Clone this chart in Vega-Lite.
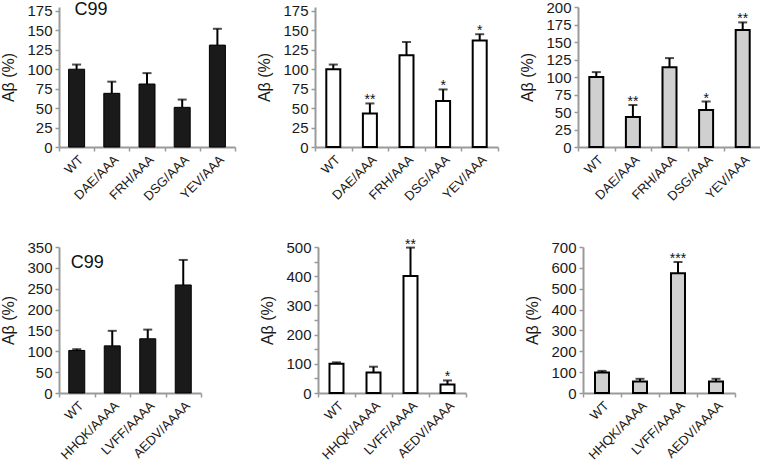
{
  "$schema": "https://vega.github.io/schema/vega-lite/v6.json",
  "padding": {"left": 0, "top": 0, "right": 0, "bottom": 0},
  "background": "white",
  "datasets": {
    "bars": [
      {"panel": "p1", "cat": "WT", "value": 100, "err": 106, "sig": "", "note": "C99"},
      {"panel": "p1", "cat": "DAE/AAA", "value": 69, "err": 84, "sig": ""},
      {"panel": "p1", "cat": "FRH/AAA", "value": 81, "err": 95, "sig": ""},
      {"panel": "p1", "cat": "DSG/AAA", "value": 51, "err": 61, "sig": ""},
      {"panel": "p1", "cat": "YEV/AAA", "value": 131, "err": 152, "sig": ""},
      {"panel": "p2", "cat": "WT", "value": 100, "err": 106, "sig": ""},
      {"panel": "p2", "cat": "DAE/AAA", "value": 43, "err": 56, "sig": "**"},
      {"panel": "p2", "cat": "FRH/AAA", "value": 118, "err": 135, "sig": ""},
      {"panel": "p2", "cat": "DSG/AAA", "value": 59, "err": 74, "sig": "*"},
      {"panel": "p2", "cat": "YEV/AAA", "value": 137, "err": 145, "sig": "*"},
      {"panel": "p3", "cat": "WT", "value": 100, "err": 107, "sig": ""},
      {"panel": "p3", "cat": "DAE/AAA", "value": 43, "err": 60, "sig": "**"},
      {"panel": "p3", "cat": "FRH/AAA", "value": 114, "err": 127, "sig": ""},
      {"panel": "p3", "cat": "DSG/AAA", "value": 53, "err": 65, "sig": "*"},
      {"panel": "p3", "cat": "YEV/AAA", "value": 167, "err": 178, "sig": "**"},
      {"panel": "p4", "cat": "WT", "value": 102, "err": 105, "sig": "", "note": "C99"},
      {"panel": "p4", "cat": "HHQK/AAAA", "value": 113, "err": 149, "sig": ""},
      {"panel": "p4", "cat": "LVFF/AAAA", "value": 130, "err": 152, "sig": ""},
      {"panel": "p4", "cat": "AEDV/AAAA", "value": 259, "err": 319, "sig": ""},
      {"panel": "p5", "cat": "WT", "value": 100, "err": 105, "sig": ""},
      {"panel": "p5", "cat": "HHQK/AAAA", "value": 70, "err": 90, "sig": ""},
      {"panel": "p5", "cat": "LVFF/AAAA", "value": 401, "err": 498, "sig": "**"},
      {"panel": "p5", "cat": "AEDV/AAAA", "value": 29, "err": 43, "sig": "*"},
      {"panel": "p6", "cat": "WT", "value": 98, "err": 106, "sig": ""},
      {"panel": "p6", "cat": "HHQK/AAAA", "value": 55, "err": 68, "sig": ""},
      {"panel": "p6", "cat": "LVFF/AAAA", "value": 574, "err": 628, "sig": "***"},
      {"panel": "p6", "cat": "AEDV/AAAA", "value": 55, "err": 68, "sig": ""}
    ]
  },
  "data": {"name": "bars"},
  "spacing": 33,
  "vconcat": [
    {
      "spacing": 20,
      "hconcat": [
        {
          "width": 176, "height": 140,
          "transform": [{"filter": "datum.panel == 'p1'"}],
          "encoding": {"x": {"field": "cat", "type": "nominal", "sort": null, "title": null, "scale": {"paddingInner": 0, "paddingOuter": 0}, "axis": {"labelFontSize": 13, "labelPadding": 2, "labelAngle": -45, "tickBand": "extent"}}},
          "layer": [
            {"mark": {"type": "bar", "width": 16, "fill": "#1a1a1a", "stroke": "#000", "strokeWidth": 1},
             "encoding": {"y": {"field": "value", "type": "quantitative", "title": "Aβ (%)", "scale": {"domain": [0, 175]}, "axis": {"values": [0, 25, 50, 75, 100, 125, 150, 175], "tickCount": 8, "labelOverlap": false, "labelSeparation": 0, "labelFontSize": 15}}}},
            {"mark": {"type": "rule", "strokeWidth": 2, "color": "#000"},
             "encoding": {"y": {"field": "value", "type": "quantitative"}, "y2": {"field": "err"}}},
            {"mark": {"type": "tick", "size": 9, "thickness": 2, "color": "#000"},
             "encoding": {"y": {"field": "err", "type": "quantitative"}}},
            {"transform": [{"filter": "datum.note"}],
             "mark": {"type": "text", "align": "left", "baseline": "middle", "fontSize": 18, "dx": -2, "dy": -1, "color": "#111"},
             "encoding": {"y": {"datum": 175, "type": "quantitative"}, "text": {"field": "note"}}}
          ]
        },
        {
          "width": 183, "height": 140,
          "transform": [{"filter": "datum.panel == 'p2'"}],
          "encoding": {"x": {"field": "cat", "type": "nominal", "sort": null, "title": null, "scale": {"paddingInner": 0, "paddingOuter": 0}, "axis": {"labelFontSize": 13, "labelPadding": 2, "labelAngle": -45, "tickBand": "extent"}}},
          "layer": [
            {"mark": {"type": "bar", "width": 14, "fill": "#ffffff", "stroke": "#000", "strokeWidth": 2},
             "encoding": {"y": {"field": "value", "type": "quantitative", "title": "Aβ (%)", "scale": {"domain": [0, 175]}, "axis": {"values": [0, 25, 50, 75, 100, 125, 150, 175], "tickCount": 8, "labelOverlap": false, "labelSeparation": 0, "labelFontSize": 15}}}},
            {"mark": {"type": "rule", "strokeWidth": 2, "color": "#000"},
             "encoding": {"y": {"field": "value", "type": "quantitative"}, "y2": {"field": "err"}}},
            {"mark": {"type": "tick", "size": 9, "thickness": 2, "color": "#000"},
             "encoding": {"y": {"field": "err", "type": "quantitative"}}},
            {"mark": {"type": "text", "baseline": "alphabetic", "fontSize": 14, "dy": 1, "color": "#111"},
             "encoding": {"y": {"field": "err", "type": "quantitative"}, "text": {"field": "sig"}}}
          ]
        },
        {
          "width": 183, "height": 140,
          "transform": [{"filter": "datum.panel == 'p3'"}],
          "encoding": {"x": {"field": "cat", "type": "nominal", "sort": null, "title": null, "scale": {"paddingInner": 0, "paddingOuter": 0}, "axis": {"labelFontSize": 13, "labelPadding": 2, "labelAngle": -45, "tickBand": "extent"}}},
          "layer": [
            {"mark": {"type": "bar", "width": 14, "fill": "#d0d0d0", "stroke": "#000", "strokeWidth": 2},
             "encoding": {"y": {"field": "value", "type": "quantitative", "title": "Aβ (%)", "scale": {"domain": [0, 200]}, "axis": {"values": [0, 25, 50, 75, 100, 125, 150, 175, 200], "tickCount": 9, "labelOverlap": false, "labelSeparation": 0, "labelFontSize": 15}}}},
            {"mark": {"type": "rule", "strokeWidth": 2, "color": "#000"},
             "encoding": {"y": {"field": "value", "type": "quantitative"}, "y2": {"field": "err"}}},
            {"mark": {"type": "tick", "size": 9, "thickness": 2, "color": "#000"},
             "encoding": {"y": {"field": "err", "type": "quantitative"}}},
            {"mark": {"type": "text", "baseline": "alphabetic", "fontSize": 14, "dy": 1, "color": "#111"},
             "encoding": {"y": {"field": "err", "type": "quantitative"}, "text": {"field": "sig"}}}
          ]
        }
      ]
    },
    {
      "spacing": 57,
      "hconcat": [
        {
          "width": 142, "height": 146,
          "transform": [{"filter": "datum.panel == 'p4'"}],
          "encoding": {"x": {"field": "cat", "type": "nominal", "sort": null, "title": null, "scale": {"paddingInner": 0, "paddingOuter": 0}, "axis": {"labelFontSize": 13, "labelPadding": 2, "labelAngle": -45, "tickBand": "extent"}}},
          "layer": [
            {"mark": {"type": "bar", "width": 16, "fill": "#1a1a1a", "stroke": "#000", "strokeWidth": 1},
             "encoding": {"y": {"field": "value", "type": "quantitative", "title": "Aβ (%)", "scale": {"domain": [0, 350]}, "axis": {"values": [0, 50, 100, 150, 200, 250, 300, 350], "tickCount": 8, "labelOverlap": false, "labelSeparation": 0, "labelFontSize": 15}}}},
            {"mark": {"type": "rule", "strokeWidth": 2, "color": "#000"},
             "encoding": {"y": {"field": "value", "type": "quantitative"}, "y2": {"field": "err"}}},
            {"mark": {"type": "tick", "size": 9, "thickness": 2, "color": "#000"},
             "encoding": {"y": {"field": "err", "type": "quantitative"}}},
            {"transform": [{"filter": "datum.note"}],
             "mark": {"type": "text", "align": "left", "baseline": "middle", "fontSize": 18, "dx": -6, "dy": -1, "color": "#111"},
             "encoding": {"y": {"datum": 310, "type": "quantitative"}, "text": {"field": "note"}}}
          ]
        },
        {
          "width": 148, "height": 146,
          "transform": [{"filter": "datum.panel == 'p5'"}],
          "encoding": {"x": {"field": "cat", "type": "nominal", "sort": null, "title": null, "scale": {"paddingInner": 0, "paddingOuter": 0}, "axis": {"labelFontSize": 13, "labelPadding": 2, "labelAngle": -45, "tickBand": "extent"}}},
          "layer": [
            {"mark": {"type": "bar", "width": 14, "fill": "#ffffff", "stroke": "#000", "strokeWidth": 2},
             "encoding": {"y": {"field": "value", "type": "quantitative", "title": "Aβ (%)", "scale": {"domain": [0, 500]}, "axis": {"values": [0, 50, 100, 150, 200, 250, 300, 350, 400, 450, 500], "tickCount": 11, "labelExpr": "datum.value % 100 == 0 ? datum.label : ''", "labelOverlap": false, "labelSeparation": 0, "labelFontSize": 15}}}},
            {"mark": {"type": "rule", "strokeWidth": 2, "color": "#000"},
             "encoding": {"y": {"field": "value", "type": "quantitative"}, "y2": {"field": "err"}}},
            {"mark": {"type": "tick", "size": 9, "thickness": 2, "color": "#000"},
             "encoding": {"y": {"field": "err", "type": "quantitative"}}},
            {"mark": {"type": "text", "baseline": "alphabetic", "fontSize": 14, "dy": 1, "color": "#111"},
             "encoding": {"y": {"field": "err", "type": "quantitative"}, "text": {"field": "sig"}}}
          ]
        },
        {
          "width": 152, "height": 146,
          "transform": [{"filter": "datum.panel == 'p6'"}],
          "encoding": {"x": {"field": "cat", "type": "nominal", "sort": null, "title": null, "scale": {"paddingInner": 0, "paddingOuter": 0}, "axis": {"labelFontSize": 13, "labelPadding": 2, "labelAngle": -45, "tickBand": "extent"}}},
          "layer": [
            {"mark": {"type": "bar", "width": 14, "fill": "#d0d0d0", "stroke": "#000", "strokeWidth": 2},
             "encoding": {"y": {"field": "value", "type": "quantitative", "title": "Aβ (%)", "scale": {"domain": [0, 700]}, "axis": {"values": [0, 100, 200, 300, 400, 500, 600, 700], "tickCount": 8, "labelOverlap": false, "labelSeparation": 0, "labelFontSize": 15}}}},
            {"mark": {"type": "rule", "strokeWidth": 2, "color": "#000"},
             "encoding": {"y": {"field": "value", "type": "quantitative"}, "y2": {"field": "err"}}},
            {"mark": {"type": "tick", "size": 9, "thickness": 2, "color": "#000"},
             "encoding": {"y": {"field": "err", "type": "quantitative"}}},
            {"mark": {"type": "text", "baseline": "alphabetic", "fontSize": 14, "dy": 1, "color": "#111"},
             "encoding": {"y": {"field": "err", "type": "quantitative"}, "text": {"field": "sig"}}}
          ]
        }
      ]
    }
  ],
  "config": {
    "font": "Liberation Sans",
    "view": {"stroke": null},
    "axis": {
      "domainColor": "#9a9a9a", "domainWidth": 2, "tickColor": "#9a9a9a", "tickWidth": 1.5, "tickSize": 4,
      "labelFont": "Liberation Sans", "labelFontSize": 15, "labelColor": "#1a1a1a", "grid": false, "labelOverlap": false,
      "titleFont": "Liberation Sans", "titleFontSize": 16, "titleFontWeight": "normal", "titleColor": "#1a1a1a"
    },
    "axisX": {"labelAngle": -45, "tickBand": "extent", "labelPadding": 2},
    "axisY": {"titlePadding": 10, "labelPadding": 3}
  }
}
